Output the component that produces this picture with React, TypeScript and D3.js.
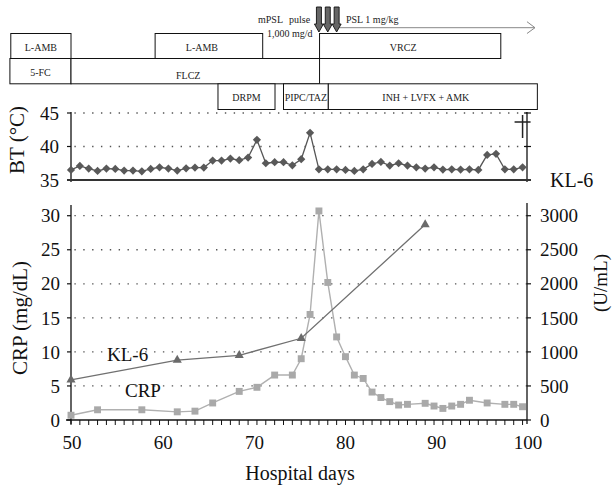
import React from 'react';
import * as d3 from 'd3';

// body temperature, one reading per hospital day starting at day 49
const btStartDay = 49;
const btValues = [
  36.5, 37.1, 36.7, 36.35, 36.7, 36.65, 36.4, 36.4, 36.3, 36.65,
  36.9, 36.7, 36.4, 36.75, 36.85, 36.85, 37.9, 37.9, 38.2, 37.95,
  38.35, 41.0, 37.5, 37.65, 37.65, 37.2, 38.1, 42.05, 36.6, 36.6,
  36.6, 36.5, 36.35, 36.6, 37.4, 37.7, 37.15, 37.5, 37.15, 36.9,
  36.7, 36.9, 36.55, 36.6, 36.55, 36.6, 36.5, 38.75, 38.9, 36.6,
  36.6, 36.9,
];

const crpDays = [49, 52, 57, 61, 63, 65, 68, 70, 72, 74, 75, 76, 77, 78, 79, 80, 81, 82, 83, 84, 85, 86, 87, 89, 90, 91, 92, 93, 94, 96, 98, 99, 100];
const crpValues = [0.7, 1.5, 1.5, 1.2, 1.3, 2.5, 4.2, 4.8, 6.6, 6.6, 9.0, 15.5, 30.7, 20.2, 12.2, 9.3, 6.6, 6.1, 4.1, 3.3, 2.7, 2.2, 2.3, 2.45, 2.05, 1.7, 2.05, 2.3, 2.9, 2.5, 2.3, 2.3, 1.95];

const kl6Days = [49, 61, 68, 75, 89];
const kl6Values = [590, 880, 950, 1200, 2870];

const dayLabels = [50, 60, 70, 80, 90, 100];
const crpTicks = [0, 5, 10, 15, 20, 25, 30];
const kl6Ticks = [0, 500, 1000, 1500, 2000, 2500, 3000];
const btTicks = [35, 40, 45];

// treatment periods (hospital days) and the row of the timeline they sit in
const treatNames = ['L-AMB', 'L-AMB', 'VRCZ', '5-FC', 'FLCZ', 'DRPM', 'PIPC/TAZ', 'INH + LVFX + AMK'];
const treatStart = [42.2, 58.5, 77.07, 42.1, 49, 65.6, 73, 78.06];
const treatEnd = [49, 70.65, 97.54, 49, 77.07, 72.04, 78.06, 101.67];
const treatRow = [0, 0, 0, 1, 1, 2, 2, 2];

const pulseDays = [77, 78, 79];
const pslDays = [79, 101.4];
const deathDay = 100;

const W = 612;
const H = 486;
const serif = "'Liberation Serif', 'DejaVu Serif', serif";

export default function App() {
  const x = d3.scaleLinear().domain([49, 100.5]).range([71, 527]);
  const xLab = d3.scaleLinear().domain([50, 100]).range([72, 528]);
  const yBT = d3.scaleLinear().domain([35, 45]).range([180, 113]);
  const yCRP = d3.scaleLinear().domain([0, 31.5]).range([420, 205.5]);
  const yKL = d3.scaleLinear().domain([0, 3150]).range([420, 205.5]);

  const left = x(49);
  const right = x(100.5);
  const rowTop = [33.5, 58.5, 83.8];
  const rowBot = [58.5, 83.8, 109.5];

  const btLine = d3.line<number>()
    .x((_, i) => x(btStartDay + i))
    .y(d => yBT(d));
  const crpLine = d3.line<number>()
    .x((_, i) => x(crpDays[i]))
    .y(d => yCRP(d));
  const klLine = d3.line<number>()
    .x((_, i) => x(kl6Days[i]))
    .y(d => yKL(d));

  const diamond = d3.symbol(d3.symbolSquare, 34)();
  const square = d3.symbol(d3.symbolSquare, 48)();
  const triangle = d3.symbol(d3.symbolTriangle, 36)();

  const minorDays = d3.range(49, 101);
  const dots = { stroke: '#555', strokeWidth: 1.3, strokeDasharray: '1.4 7.45', strokeDashoffset: -3.4 };
  const tickFont = 19;

  return (
    <svg width={W} height={H} style={{ position: 'absolute', left: 0, top: 0, background: '#fff' }} fontFamily={serif}>
      {/* treatment timeline */}
      {treatNames.map((n, i) => {
        const r = treatRow[i];
        const x0 = x(treatStart[i]);
        const x1 = x(treatEnd[i]);
        return (
          <g key={'t' + i}>
            <rect x={x0} y={rowTop[r]} width={x1 - x0} height={rowBot[r] - rowTop[r]} fill="#fff" stroke="#111" strokeWidth={1} />
            <text x={(x0 + x1) / 2 - (x1 - x0 > 100 ? 7 : 0)} y={(rowTop[r] + rowBot[r]) / 2 + (n === 'FLCZ' ? 4 : 1)} dy="0.35em" textAnchor="middle" fontSize={10} fill="#222">{n}</text>
          </g>
        );
      })}

      {/* PSL arrow */}
      <line x1={x(pslDays[0])} x2={x(pslDays[1])} y1={27.7} y2={27.7} stroke="#888" strokeWidth={1} />
      <polyline points={`${x(pslDays[1]) - 8},${21.7} ${x(pslDays[1])},${27.7} ${x(pslDays[1]) - 8},${33.5}`} fill="none" stroke="#888" strokeWidth={1} />

      {/* mPSL pulse arrows */}
      {pulseDays.map((d, i) => {
        const cx = x(d);
        const p = [[cx - 2.5, 7], [cx + 2.5, 7], [cx + 2.5, 24], [cx + 4.5, 24], [cx, 32], [cx - 4.5, 24], [cx - 2.5, 24]];
        return <polygon key={'a' + i} points={p.map(q => q.join(',')).join(' ')} fill="#666" stroke="#111" strokeWidth={0.9} />;
      })}
      <text x={258} y={23} fontSize={10} fill="#222">mPSL</text>
      <text x={289} y={23} fontSize={10} fill="#222">pulse</text>
      <text x={267} y={37} fontSize={10} fill="#222">1,000 mg/d</text>
      <text x={346} y={23} fontSize={10} fill="#222">PSL 1 mg/kg</text>

      {/* BT panel */}
      {btTicks.filter(t => t > 35).map(t => (
        <line key={'bg' + t} x1={left} x2={right} y1={yBT(t)} y2={yBT(t)} {...dots} />
      ))}
      <line x1={left} x2={left} y1={112} y2={182} stroke="#111" strokeWidth={1.3} />
      <line x1={right} x2={right} y1={112} y2={182} stroke="#111" strokeWidth={1.3} />
      {btTicks.map(t => (
        <g key={'bt' + t}>
          <line x1={left - 4} x2={left} y1={yBT(t)} y2={yBT(t)} stroke="#111" strokeWidth={1.2} />
          <line x1={right - 3} x2={right + 4} y1={yBT(t)} y2={yBT(t)} stroke="#111" strokeWidth={1.2} />
          <text x={59} y={yBT(t)} dy="0.35em" textAnchor="end" fontSize={tickFont} fill="#111">{t}</text>
        </g>
      ))}
      <line x1={left - 4} x2={right + 4} y1={yBT(35)} y2={yBT(35)} stroke="#333" strokeWidth={2.2} />
      <path d={btLine(btValues) || ''} fill="none" stroke="#555" strokeWidth={1.3} />
      {btValues.map((v, i) => (
        <path key={'bd' + i} d={diamond || ''} transform={`translate(${x(btStartDay + i)},${yBT(v)}) rotate(45)`} fill="#595959" />
      ))}
      <line x1={x(deathDay)} x2={x(deathDay)} y1={115} y2={138} stroke="#222" strokeWidth={1.5} />
      <line x1={x(deathDay) - 8} x2={x(deathDay) + 8} y1={122} y2={122} stroke="#222" strokeWidth={1.5} />
      <text transform="translate(24,140) rotate(-90)" textAnchor="middle" fontSize={21} fill="#111">BT (°C)</text>
      <text x={550} y={180} dy="0.35em" fontSize={20} fill="#111">KL-6</text>

      {/* main panel */}
      {crpTicks.filter(t => t > 0).map(t => (
        <line key={'cg' + t} x1={left} x2={right} y1={yCRP(t)} y2={yCRP(t)} {...dots} />
      ))}
      <line x1={left - 5} x2={right} y1={420} y2={420} stroke="#111" strokeWidth={1.3} />
      <line x1={left} x2={left} y1={205} y2={424} stroke="#111" strokeWidth={1.3} />
      <line x1={right} x2={right} y1={203} y2={424} stroke="#111" strokeWidth={1.3} />
      {minorDays.map(d => (
        <line key={'m' + d} x1={x(d)} x2={x(d)} y1={420} y2={425} stroke="#111" strokeWidth={1} />
      ))}
      {dayLabels.map(d => (
        <text key={'dl' + d} x={xLab(d)} y={449} textAnchor="middle" fontSize={tickFont} fill="#111">{d}</text>
      ))}
      {crpTicks.map(t => (
        <g key={'ct' + t}>
          <line x1={left - 4} x2={left} y1={yCRP(t)} y2={yCRP(t)} stroke="#111" strokeWidth={1.2} />
          <text x={60} y={yCRP(t)} dy="0.35em" textAnchor="end" fontSize={tickFont} fill="#111">{t}</text>
        </g>
      ))}
      {kl6Ticks.map(t => (
        <g key={'kt' + t}>
          <line x1={right} x2={right + 4} y1={yKL(t)} y2={yKL(t)} stroke="#111" strokeWidth={1.2} />
          <text x={540} y={yKL(t)} dy="0.35em" textAnchor="start" fontSize={tickFont} fill="#111">{t}</text>
        </g>
      ))}

      <path d={crpLine(crpValues) || ''} fill="none" stroke="#b0b0b0" strokeWidth={1.4} />
      {crpValues.map((v, i) => (
        <path key={'cs' + i} d={square || ''} transform={`translate(${x(crpDays[i])},${yCRP(v)})`} fill="#a9a9a9" />
      ))}
      <path d={klLine(kl6Values) || ''} fill="none" stroke="#707070" strokeWidth={1.3} />
      {kl6Values.map((v, i) => (
        <path key={'kl' + i} d={triangle || ''} transform={`translate(${x(kl6Days[i])},${yKL(v)})`} fill="#6a6a6a" />
      ))}

      <text x={107} y={354} dy="0.35em" fontSize={19} fill="#111">KL-6</text>
      <text x={125} y={390} dy="0.35em" fontSize={19} fill="#111">CRP</text>

      <text transform="translate(27,318) rotate(-90)" textAnchor="middle" fontSize={21} fill="#111">CRP (mg/dL)</text>
      <text transform="translate(607,283) rotate(-90)" textAnchor="middle" fontSize={19} fill="#111">(U/mL)</text>
      <text x={300} y={480} textAnchor="middle" fontSize={20} fill="#111">Hospital days</text>
    </svg>
  );
}
